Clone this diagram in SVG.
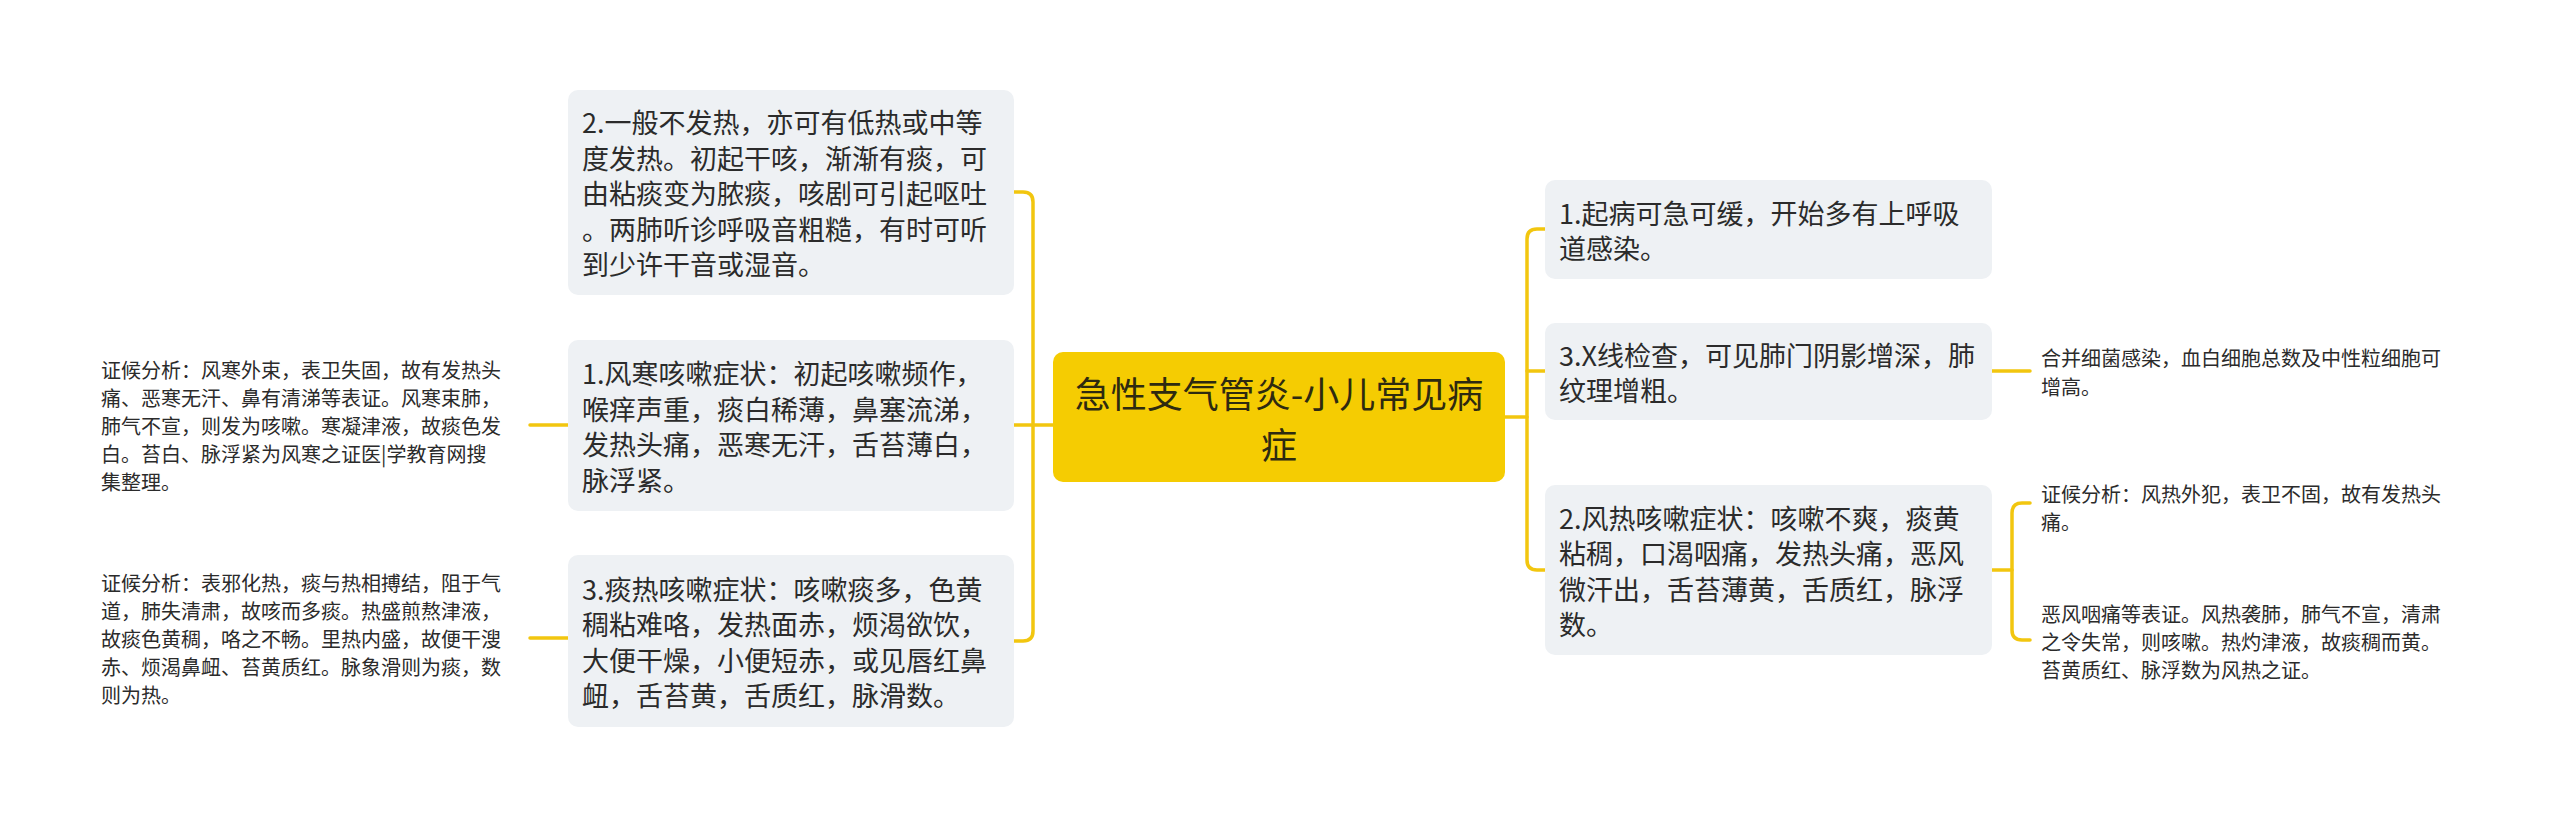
<svg xmlns="http://www.w3.org/2000/svg" width="2560" height="817" viewBox="0 0 2560 817">
<style>
.bg{fill:#ffffff}
.node{fill:#EEF1F4}
.root{fill:#F5CC02}
.t{font-family:"Noto Sans CJK SC","Noto Sans",sans-serif;font-size:27px;fill:#2b2b2b;dominant-baseline:central}
.s{font-family:"Noto Sans CJK SC","Noto Sans",sans-serif;font-size:20px;fill:#2b2b2b;dominant-baseline:central}
.r{font-family:"Noto Sans CJK SC","Noto Sans",sans-serif;font-size:36px;fill:#2e2a10;dominant-baseline:central;text-anchor:middle}
.c{fill:none;stroke:#F2C60F;stroke-width:3.5;stroke-linecap:round}
</style>
<rect class="bg" x="0" y="0" width="2560" height="817"/>
<g id="connectors">
<path class="c" d="M1014,192 H1023 Q1033,192 1033,202 V631 Q1033,641 1023,641 H1014"/>
<path class="c" d="M1014,425 H1053"/>
<path class="c" d="M1505,417 H1527"/>
<path class="c" d="M1545,229 H1537 Q1527,229 1527,239 V560 Q1527,570 1537,570 H1545"/>
<path class="c" d="M1527,371 H1545"/>
<path class="c" d="M530,425 H568"/>
<path class="c" d="M530,638 H568"/>
<path class="c" d="M1992,371 H2030"/>
<path class="c" d="M1992,570 H2012"/>
<path class="c" d="M2030,503 H2022 Q2012,503 2012,513 V630 Q2012,640 2022,640 H2030"/>
</g>
<g id="root">
<rect class="root" x="1053" y="352" width="452" height="130" rx="10"/>
<text class="r" x="1279" y="392">急性支气管炎-小儿常见病</text>
<text class="r" x="1279" y="443">症</text>
</g>
<g id="left2">
<rect class="node" x="568" y="90" width="446" height="205" rx="10"/>
<text class="t" x="582" y="121.5">2.一般不发热，亦可有低热或中等</text>
<text class="t" x="582" y="157">度发热。初起干咳，渐渐有痰，可</text>
<text class="t" x="582" y="192.5">由粘痰变为脓痰，咳剧可引起呕吐</text>
<text class="t" x="582" y="228">。两肺听诊呼吸音粗糙，有时可听</text>
<text class="t" x="582" y="263.5">到少许干音或湿音。</text>
</g>
<g id="left1">
<rect class="node" x="568" y="340" width="446" height="171" rx="10"/>
<text class="t" x="582" y="372.5">1.风寒咳嗽症状：初起咳嗽频作，</text>
<text class="t" x="582" y="408">喉痒声重，痰白稀薄，鼻塞流涕，</text>
<text class="t" x="582" y="443.5">发热头痛，恶寒无汗，舌苔薄白，</text>
<text class="t" x="582" y="479">脉浮紧。</text>
</g>
<g id="left3">
<rect class="node" x="568" y="555" width="446" height="172" rx="10"/>
<text class="t" x="582" y="588">3.痰热咳嗽症状：咳嗽痰多，色黄</text>
<text class="t" x="582" y="623.5">稠粘难咯，发热面赤，烦渴欲饮，</text>
<text class="t" x="582" y="659">大便干燥，小便短赤，或见唇红鼻</text>
<text class="t" x="582" y="694.5">衄，舌苔黄，舌质红，脉滑数。</text>
</g>
<g id="left1-note">
<text class="s" x="101" y="369">证候分析：风寒外束，表卫失固，故有发热头</text>
<text class="s" x="101" y="397">痛、恶寒无汗、鼻有清涕等表证。风寒束肺，</text>
<text class="s" x="101" y="425">肺气不宣，则发为咳嗽。寒凝津液，故痰色发</text>
<text class="s" x="101" y="453">白。苔白、脉浮紧为风寒之证医|学教育网搜</text>
<text class="s" x="101" y="481">集整理。</text>
</g>
<g id="left3-note">
<text class="s" x="101" y="582">证候分析：表邪化热，痰与热相搏结，阻于气</text>
<text class="s" x="101" y="610">道，肺失清肃，故咳而多痰。热盛煎熬津液，</text>
<text class="s" x="101" y="638">故痰色黄稠，咯之不畅。里热内盛，故便干溲</text>
<text class="s" x="101" y="666">赤、烦渴鼻衄、苔黄质红。脉象滑则为痰，数</text>
<text class="s" x="101" y="694">则为热。</text>
</g>
<g id="right1">
<rect class="node" x="1545" y="180" width="447" height="99" rx="10"/>
<text class="t" x="1559" y="212">1.起病可急可缓，开始多有上呼吸</text>
<text class="t" x="1559" y="247.5">道感染。</text>
</g>
<g id="right3">
<rect class="node" x="1545" y="323" width="447" height="97" rx="10"/>
<text class="t" x="1559" y="354">3.X线检查，可见肺门阴影增深，肺</text>
<text class="t" x="1559" y="389.5">纹理增粗。</text>
</g>
<g id="right2">
<rect class="node" x="1545" y="485" width="447" height="170" rx="10"/>
<text class="t" x="1559" y="517">2.风热咳嗽症状：咳嗽不爽，痰黄</text>
<text class="t" x="1559" y="552.5">粘稠，口渴咽痛，发热头痛，恶风</text>
<text class="t" x="1559" y="588">微汗出，舌苔薄黄，舌质红，脉浮</text>
<text class="t" x="1559" y="623.5">数。</text>
</g>
<g id="right3-note">
<text class="s" x="2041" y="357">合并细菌感染，血白细胞总数及中性粒细胞可</text>
<text class="s" x="2041" y="386">增高。</text>
</g>
<g id="right2-note1">
<text class="s" x="2041" y="493">证候分析：风热外犯，表卫不固，故有发热头</text>
<text class="s" x="2041" y="521">痛。</text>
</g>
<g id="right2-note2">
<text class="s" x="2041" y="613">恶风咽痛等表证。风热袭肺，肺气不宣，清肃</text>
<text class="s" x="2041" y="641">之令失常，则咳嗽。热灼津液，故痰稠而黄。</text>
<text class="s" x="2041" y="669">苔黄质红、脉浮数为风热之证。</text>
</g>
</svg>
